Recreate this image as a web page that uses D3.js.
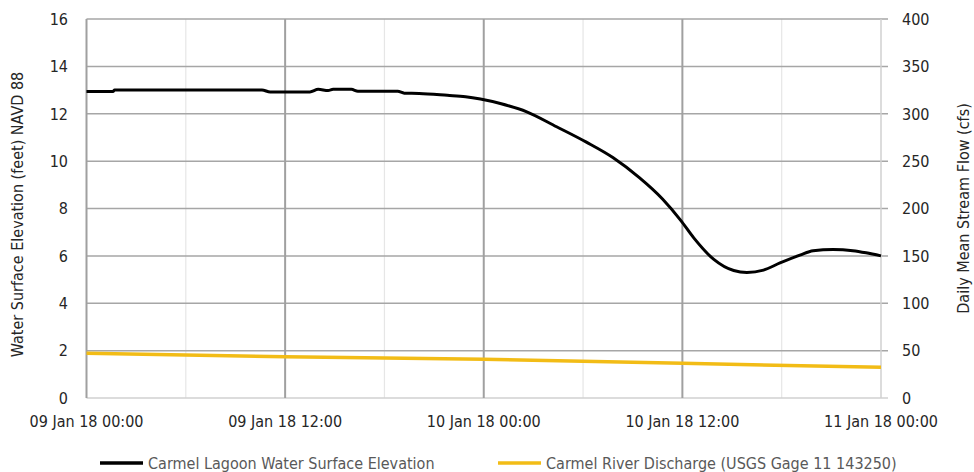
<!DOCTYPE html>
<html>
<head>
<meta charset="utf-8">
<script src="https://cdn.jsdelivr.net/npm/d3@7"></script>
<style>
  body { margin: 0; background: #fff; }
  text { font-family: "Liberation Sans Narrow", "DejaVu Sans Condensed", "Liberation Sans", sans-serif; }
</style>
</head>
<body>
<div id="chart"></div>
<script>
// hours since 09 Jan 18 00:00
var xTickHours = [0, 12, 24, 36, 48];
var xTickLabels = ['09 Jan 18 00:00', '09 Jan 18 12:00', '10 Jan 18 00:00', '10 Jan 18 12:00', '11 Jan 18 00:00'];
var minorHours = [6, 18, 30, 42];
var leftTicks = [0, 2, 4, 6, 8, 10, 12, 14, 16];
var rightTicks = [0, 50, 100, 150, 200, 250, 300, 350, 400];

var elevHours = [0, 1.6, 1.7, 10.6, 11.1, 13.5, 14.0, 14.6, 14.9, 16.0, 16.4, 18.8, 19.2, 20.1, 21.8, 22.9, 23.8,
  25.0, 26.6, 28.4, 30.2, 31.8, 33.4, 34.8, 35.9, 36.7, 37.9, 39.1, 39.9, 40.9, 41.9, 43.1, 43.9, 45.1, 46.3, 47.1, 48];
var elevValues = [12.94, 12.94, 13.0, 13.0, 12.92, 12.92, 13.03, 12.98, 13.03, 13.03, 12.95, 12.95, 12.87, 12.86, 12.78, 12.72, 12.62,
  12.43, 12.08, 11.45, 10.8, 10.15, 9.3, 8.4, 7.5, 6.75, 5.85, 5.38, 5.3, 5.4, 5.7, 6.03, 6.22, 6.27, 6.22, 6.13, 6.0];

var flowHours = [0, 12, 24, 36, 48];
var flowValues = [47.3, 43.6, 40.8, 36.6, 32.4];

var seriesNames = ['Carmel Lagoon Water Surface Elevation', 'Carmel River Discharge (USGS Gage 11 143250)'];

var width = 974, height = 472;
var margin = { top: 19, right: 93, bottom: 74, left: 86.5 };
var innerW = width - margin.left - margin.right;
var innerH = height - margin.top - margin.bottom;
var fontSize = 16;

var svg = d3.select('#chart').append('svg')
  .attr('width', width)
  .attr('height', height);

var x = d3.scaleLinear().domain([0, 48]).range([margin.left, margin.left + innerW]);
var yL = d3.scaleLinear().domain([0, 16]).range([margin.top + innerH, margin.top]);
var yR = d3.scaleLinear().domain([0, 400]).range([margin.top + innerH, margin.top]);

var grid = svg.append('g');
// minor vertical grid
grid.selectAll('.minor').data(minorHours).enter().append('line')
  .attr('x1', function (d) { return x(d); }).attr('x2', function (d) { return x(d); })
  .attr('y1', yL(0)).attr('y2', yL(16))
  .attr('stroke', '#e6e6e6').attr('stroke-width', 1.2);
// horizontal grid (extends as right-axis ticks)
grid.selectAll('.h').data(leftTicks).enter().append('line')
  .attr('x1', x(0)).attr('x2', x(48) + 7)
  .attr('y1', function (d) { return yL(d); }).attr('y2', function (d) { return yL(d); })
  .attr('stroke', function (d) { return d === 0 ? '#d0d0d0' : '#a6a6a6'; })
  .attr('stroke-width', 1.5);
// major vertical grid
grid.selectAll('.major').data(xTickHours).enter().append('line')
  .attr('x1', function (d) { return x(d); }).attr('x2', function (d) { return x(d); })
  .attr('y1', yL(0)).attr('y2', yL(16))
  .attr('stroke', function (d) { return d === 48 ? '#d0d0d0' : '#a0a0a0'; })
  .attr('stroke-width', function (d) { return d === 48 ? 1.5 : 2; });

// left tick labels
svg.append('g').selectAll('text').data(leftTicks).enter().append('text')
  .attr('x', 68).attr('y', function (d) { return yL(d); })
  .attr('dy', '0.36em')
  .attr('text-anchor', 'end')
  .attr('font-size', fontSize).attr('fill', '#262626')
  .text(function (d) { return d; });

// right tick labels
svg.append('g').selectAll('text').data(rightTicks).enter().append('text')
  .attr('x', 902).attr('y', function (d) { return yR(d); })
  .attr('dy', '0.36em')
  .attr('font-size', fontSize).attr('fill', '#262626')
  .text(function (d) { return d; });

// x tick labels
svg.append('g').selectAll('text').data(xTickHours).enter().append('text')
  .attr('x', function (d) { return x(d); }).attr('y', 421)
  .attr('dy', '0.36em')
  .attr('text-anchor', 'middle')
  .attr('font-size', fontSize).attr('fill', '#262626')
  .text(function (d, i) { return xTickLabels[i]; });

// axis titles
svg.append('text')
  .attr('transform', 'translate(17,' + (margin.top + innerH / 2 + 6) + ') rotate(-90)')
  .attr('dy', '0.36em').attr('text-anchor', 'middle')
  .attr('font-size', fontSize).attr('fill', '#262626')
  .text('Water Surface Elevation (feet) NAVD 88');
svg.append('text')
  .attr('transform', 'translate(963,' + (margin.top + innerH / 2) + ') rotate(-90)')
  .attr('dy', '0.36em').attr('text-anchor', 'middle')
  .attr('font-size', fontSize).attr('fill', '#262626')
  .text('Daily Mean Stream Flow (cfs)');

// series
var flowLine = d3.line()
  .x(function (d, i) { return x(flowHours[i]); })
  .y(function (d) { return yR(d); });
svg.append('path').datum(flowValues)
  .attr('d', flowLine)
  .attr('fill', 'none').attr('stroke', '#f2bc16').attr('stroke-width', 3.5);

var elevLine = d3.line()
  .curve(d3.curveMonotoneX)
  .x(function (d, i) { return x(elevHours[i]); })
  .y(function (d) { return yL(d); });
svg.append('path').datum(elevValues)
  .attr('d', elevLine)
  .attr('fill', 'none').attr('stroke', '#000').attr('stroke-width', 3);

// legend
var legend = [
  { name: seriesNames[0], color: '#000', x: 100 },
  { name: seriesNames[1], color: '#f2bc16', x: 498 }
];
var lg = svg.append('g').selectAll('g').data(legend).enter().append('g')
  .attr('transform', function (d) { return 'translate(' + d.x + ',463)'; });
lg.append('line').attr('x1', 0).attr('x2', 43)
  .attr('stroke', function (d) { return d.color; }).attr('stroke-width', 3.5);
lg.append('text').attr('x', 48).attr('dy', '0.36em')
  .attr('font-size', fontSize).attr('fill', '#595959')
  .text(function (d) { return d.name; });
</script>
</body>
</html>
